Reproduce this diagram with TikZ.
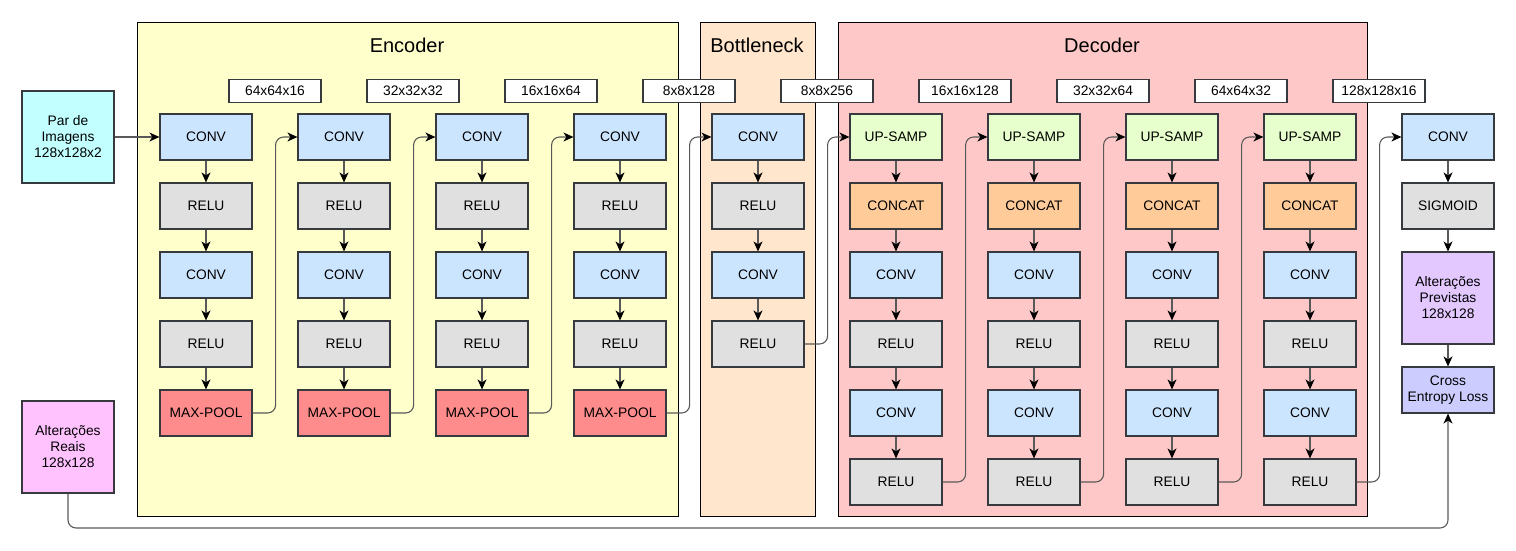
\documentclass[tikz,border=0pt]{standalone}
\usepackage{fontspec}
\setmainfont{Liberation Sans}
\usetikzlibrary{arrows.meta}
\definecolor{cconv}{HTML}{CCE5FF}
\definecolor{crelu}{HTML}{E0E0E0}
\definecolor{cpool}{HTML}{FF8C8C}
\definecolor{cup}{HTML}{E6FFCC}
\definecolor{ccat}{HTML}{FFCC99}
\definecolor{cin}{HTML}{C2FFFF}
\definecolor{ctruth}{HTML}{FFC2FF}
\definecolor{cpred}{HTML}{E3C8FF}
\definecolor{closs}{HTML}{CCCCFF}
\definecolor{cenc}{HTML}{FFFFCC}
\definecolor{cbot}{HTML}{FFE6CC}
\definecolor{cdec}{HTML}{FFC8C8}
\definecolor{cedge}{HTML}{36393D}
\tikzset{
  blk/.style={draw=cedge, line width=1.2pt, minimum width=92pt, minimum height=46pt,
    inner sep=0pt, align=center, font=\fontsize{13.8}{16}\selectfont},
  dims/.style={draw=cedge, fill=white, line width=1.1pt, minimum width=92pt,
    minimum height=23pt, inner sep=0pt, font=\fontsize{13.8}{16}\selectfont},
  panel/.style={draw=black, line width=1pt, inner sep=0pt},
  ttl/.style={font=\fontsize{20}{24}\selectfont},
  conn/.style={draw=black!65, line width=1.1pt, rounded corners=8pt,
    -{Stealth[length=10pt, width=9pt, inset=3pt, color=black]}}
}
\begin{document}
\begin{tikzpicture}[x=1pt, y=-1pt]
\useasboundingbox (0,0) rectangle (1516,550);
% panels
\node[panel, fill=cenc, minimum width=541pt, minimum height=494pt] (enc) at (407.5,269){};
\node[panel, fill=cbot, minimum width=115pt, minimum height=494pt] (bot) at (757.5,269){};
\node[panel, fill=cdec, minimum width=529pt, minimum height=494pt] (dec) at (1102.5,269){};
\node[ttl] (enctitle) at (407,45){Encoder};
\node[ttl] (bottitle) at (757,45){Bottleneck};
\node[ttl] (dectitle) at (1102,45){Decoder};
% sizes
\node[dims] (sz1) at (275,91){64x64x16};
\node[dims] (sz2) at (413,91){32x32x32};
\node[dims] (sz3) at (551,91){16x16x64};
\node[dims] (sz4) at (689,91){8x8x128};
\node[dims] (sz5) at (827,91){8x8x256};
\node[dims] (sz6) at (965,91){16x16x128};
\node[dims] (sz7) at (1103,91){32x32x64};
\node[dims] (sz8) at (1241,91){64x64x32};
\node[dims] (sz9) at (1379,91){128x128x16};
% inputs
\node[blk, fill=cin, minimum height=92pt] (in) at (68,137){Par de\\Imagens\\128x128x2};
\node[blk, fill=ctruth, minimum height=92pt] (gt) at (68,447){Alterações\\Reais\\128x128};
% encoder
\node[blk, fill=cconv] (e11) at (206,137){CONV};
\node[blk, fill=crelu] (e12) at (206,206){RELU};
\node[blk, fill=cconv] (e13) at (206,275){CONV};
\node[blk, fill=crelu] (e14) at (206,344){RELU};
\node[blk, fill=cpool] (e15) at (206,413){MAX-POOL};
\draw[conn](in) -- (e11);
\draw[conn](e11) -- (e12);
\draw[conn](e12) -- (e13);
\draw[conn](e13) -- (e14);
\draw[conn](e14) -- (e15);
\node[blk, fill=cconv] (e21) at (344,137){CONV};
\node[blk, fill=crelu] (e22) at (344,206){RELU};
\node[blk, fill=cconv] (e23) at (344,275){CONV};
\node[blk, fill=crelu] (e24) at (344,344){RELU};
\node[blk, fill=cpool] (e25) at (344,413){MAX-POOL};
\draw[conn](e15.east) -- ++(23,0) |- (e21.west);
\draw[conn](e21) -- (e22);
\draw[conn](e22) -- (e23);
\draw[conn](e23) -- (e24);
\draw[conn](e24) -- (e25);
\node[blk, fill=cconv] (e31) at (482,137){CONV};
\node[blk, fill=crelu] (e32) at (482,206){RELU};
\node[blk, fill=cconv] (e33) at (482,275){CONV};
\node[blk, fill=crelu] (e34) at (482,344){RELU};
\node[blk, fill=cpool] (e35) at (482,413){MAX-POOL};
\draw[conn](e25.east) -- ++(23,0) |- (e31.west);
\draw[conn](e31) -- (e32);
\draw[conn](e32) -- (e33);
\draw[conn](e33) -- (e34);
\draw[conn](e34) -- (e35);
\node[blk, fill=cconv] (e41) at (620,137){CONV};
\node[blk, fill=crelu] (e42) at (620,206){RELU};
\node[blk, fill=cconv] (e43) at (620,275){CONV};
\node[blk, fill=crelu] (e44) at (620,344){RELU};
\node[blk, fill=cpool] (e45) at (620,413){MAX-POOL};
\draw[conn](e35.east) -- ++(23,0) |- (e41.west);
\draw[conn](e41) -- (e42);
\draw[conn](e42) -- (e43);
\draw[conn](e43) -- (e44);
\draw[conn](e44) -- (e45);
% bottleneck
\node[blk, fill=cconv] (b1) at (758,137){CONV};
\node[blk, fill=crelu] (b2) at (758,206){RELU};
\node[blk, fill=cconv] (b3) at (758,275){CONV};
\node[blk, fill=crelu] (b4) at (758,344){RELU};
\draw[conn](e45.east) -- ++(23,0) |- (b1.west);
\draw[conn](b1) -- (b2);
\draw[conn](b2) -- (b3);
\draw[conn](b3) -- (b4);
% decoder
\node[blk, fill=cup] (d11) at (896,137){UP-SAMP};
\node[blk, fill=ccat] (d12) at (896,206){CONCAT};
\node[blk, fill=cconv] (d13) at (896,275){CONV};
\node[blk, fill=crelu] (d14) at (896,344){RELU};
\node[blk, fill=cconv] (d15) at (896,413){CONV};
\node[blk, fill=crelu] (d16) at (896,482){RELU};
\draw[conn](b4.east) -- ++(23,0) |- (d11.west);
\draw[conn](d11) -- (d12);
\draw[conn](d12) -- (d13);
\draw[conn](d13) -- (d14);
\draw[conn](d14) -- (d15);
\draw[conn](d15) -- (d16);
\node[blk, fill=cup] (d21) at (1034,137){UP-SAMP};
\node[blk, fill=ccat] (d22) at (1034,206){CONCAT};
\node[blk, fill=cconv] (d23) at (1034,275){CONV};
\node[blk, fill=crelu] (d24) at (1034,344){RELU};
\node[blk, fill=cconv] (d25) at (1034,413){CONV};
\node[blk, fill=crelu] (d26) at (1034,482){RELU};
\draw[conn](d16.east) -- ++(23,0) |- (d21.west);
\draw[conn](d21) -- (d22);
\draw[conn](d22) -- (d23);
\draw[conn](d23) -- (d24);
\draw[conn](d24) -- (d25);
\draw[conn](d25) -- (d26);
\node[blk, fill=cup] (d31) at (1172,137){UP-SAMP};
\node[blk, fill=ccat] (d32) at (1172,206){CONCAT};
\node[blk, fill=cconv] (d33) at (1172,275){CONV};
\node[blk, fill=crelu] (d34) at (1172,344){RELU};
\node[blk, fill=cconv] (d35) at (1172,413){CONV};
\node[blk, fill=crelu] (d36) at (1172,482){RELU};
\draw[conn](d26.east) -- ++(23,0) |- (d31.west);
\draw[conn](d31) -- (d32);
\draw[conn](d32) -- (d33);
\draw[conn](d33) -- (d34);
\draw[conn](d34) -- (d35);
\draw[conn](d35) -- (d36);
\node[blk, fill=cup] (d41) at (1310,137){UP-SAMP};
\node[blk, fill=ccat] (d42) at (1310,206){CONCAT};
\node[blk, fill=cconv] (d43) at (1310,275){CONV};
\node[blk, fill=crelu] (d44) at (1310,344){RELU};
\node[blk, fill=cconv] (d45) at (1310,413){CONV};
\node[blk, fill=crelu] (d46) at (1310,482){RELU};
\draw[conn](d36.east) -- ++(23,0) |- (d41.west);
\draw[conn](d41) -- (d42);
\draw[conn](d42) -- (d43);
\draw[conn](d43) -- (d44);
\draw[conn](d44) -- (d45);
\draw[conn](d45) -- (d46);
% output
\node[blk, fill=cconv] (o1) at (1448,137){CONV};
\node[blk, fill=crelu] (o2) at (1448,206){SIGMOID};
\node[blk, fill=cpred, minimum height=92pt] (o3) at (1448,298){Alterações\\Previstas\\128x128};
\node[blk, fill=closs] (o4) at (1448,390){Cross\\Entropy Loss};
\draw[conn](d46.east) -- ++(23,0) |- (o1.west);
\draw[conn](o1) -- (o2);
\draw[conn](o2) -- (o3);
\draw[conn](o3) -- (o4);
\draw[conn](gt.south) |- (1000,528) -| (o4.south);
\end{tikzpicture}
\end{document}
